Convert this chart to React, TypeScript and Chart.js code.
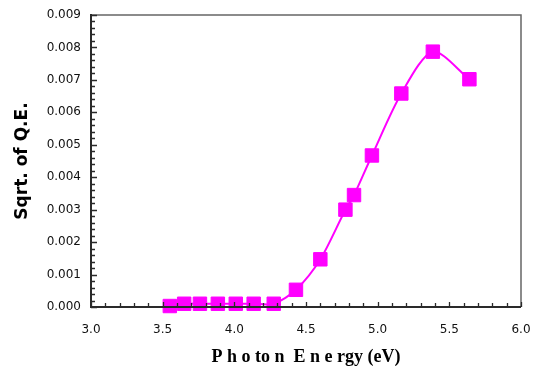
import React, { useEffect, useRef } from "react";
import { Chart, registerables } from "chart.js";

Chart.register(...registerables);

const photonEnergy = [3.55, 3.65, 3.76, 3.885, 4.01, 4.135, 4.275, 4.43, 4.6, 4.775, 4.835, 4.96, 5.165, 5.385, 5.64];
const sqrtQE = [0.00003, 0.0001, 0.0001, 0.0001, 0.0001, 0.0001, 0.0001, 0.00053, 0.00147, 0.003, 0.00345, 0.00467, 0.00658, 0.00787, 0.00702];
const xTicks = [3.0, 3.5, 4.0, 4.5, 5.0, 5.5, 6.0];
const yTicks = [0, 0.001, 0.002, 0.003, 0.004, 0.005, 0.006, 0.007, 0.008, 0.009];

const W = 539;
const H = 368;
const LEFT = 91;
const RIGHT = 521;
const TOP = 15;
const BOTTOM = 307;

const framePlugin = {
  id: "frame",
  afterDraw(chart: any) {
    const ctx = chart.ctx;
    const xs = chart.scales.x;
    const ys = chart.scales.y;
    const l = xs.left, r = xs.right, t = ys.top, b = ys.bottom;
    ctx.save();
    ctx.strokeStyle = "#666666";
    ctx.lineWidth = 1.5;
    ctx.beginPath();
    ctx.moveTo(l, t);
    ctx.lineTo(r, t);
    ctx.lineTo(r, b);
    ctx.stroke();
    ctx.strokeStyle = "#2a2a2a";
    ctx.lineWidth = 2;
    ctx.beginPath();
    ctx.moveTo(l, t - 1);
    ctx.lineTo(l, b);
    ctx.lineTo(r, b);
    ctx.stroke();
    ctx.lineWidth = 1.3;
    ctx.beginPath();
    for (let i = 0; i <= 45; i++) {
      const v = i * 0.0002;
      const y = Math.round(ys.getPixelForValue(v)) + 0.5;
      const len = i % 5 === 0 ? 6 : 4;
      ctx.moveTo(l, y);
      ctx.lineTo(l + len, y);
    }
    for (let i = 0; i <= 30; i++) {
      const v = 3 + i * 0.1;
      const x = Math.round(xs.getPixelForValue(v)) + 0.5;
      const len = i % 5 === 0 ? 5 : 4;
      ctx.moveTo(x, b);
      ctx.lineTo(x, b - len);
    }
    ctx.stroke();
    ctx.restore();
  },
};

export default function App() {
  const ref = useRef<HTMLCanvasElement>(null);
  useEffect(() => {
    if (!ref.current) return;
    const chart = new Chart(ref.current, {
      type: "line",
      data: {
        datasets: [
          {
            data: photonEnergy.map((x, i) => ({ x, y: sqrtQE[i] })),
            borderColor: "#FF00FF",
            backgroundColor: "#FF00FF",
            borderWidth: 2,
            tension: 0.28,
            pointStyle: "rect",
            pointRadius: 9.5,
            pointBorderWidth: 1,
            pointBorderColor: "#FF00FF",
            pointBackgroundColor: "#FF00FF",
            clip: false as any,
          },
        ],
      },
      options: {
        animation: false,
        responsive: false,
        maintainAspectRatio: false,
        layout: { padding: { left: 0, right: W - RIGHT, top: TOP, bottom: 0 } },
        plugins: { legend: { display: false }, tooltip: { enabled: false } },
        scales: {
          x: {
            type: "linear",
            min: 3,
            max: 6,
            afterBuildTicks: (s: any) => {
              s.ticks = xTicks.map((v) => ({ value: v }));
            },
            afterFit: (s: any) => {
              s.height = H - BOTTOM;
              s.paddingLeft = 0;
              s.paddingRight = 0;
            },
            grid: { display: false, drawTicks: false },
            border: { display: false },
            ticks: {
              color: "#111",
              font: { family: "DejaVu Sans", size: 12 },
              padding: 16,
              callback: (v: any) => Number(v).toFixed(1),
              maxRotation: 0,
              autoSkip: false,
            },
            title: {
              display: true,
              text: "P h o to n  E n e rgy (eV)",
              color: "#000",
              font: { family: "Liberation Serif", size: 18, weight: "bold" },
              padding: { top: 5, bottom: 0 },
            },
          },
          y: {
            type: "linear",
            min: 0,
            max: 0.009,
            afterBuildTicks: (s: any) => {
              s.ticks = yTicks.map((v) => ({ value: v }));
            },
            afterFit: (s: any) => {
              s.width = LEFT;
              s.paddingTop = 0;
              s.paddingBottom = 0;
            },
            grid: { display: false, drawTicks: false },
            border: { display: false },
            ticks: {
              color: "#111",
              font: { family: "DejaVu Sans", size: 12 },
              padding: 10,
              callback: (v: any) => Number(v).toFixed(3),
              autoSkip: false,
            },
            title: {
              display: true,
              text: "Sqrt. of Q.E.",
              color: "#000",
              font: { family: "DejaVu Sans", size: 17, weight: "bold" },
              padding: { top: 12, bottom: 2 },
            },
          },
        },
      },
      plugins: [framePlugin],
    });
    return () => chart.destroy();
  }, []);
  return (
    <div style={{ position: "fixed", left: 0, top: 0, width: W, height: H, background: "#fff" }}>
      <canvas ref={ref} width={W} height={H} style={{ width: W, height: H, display: "block" }} />
    </div>
  );
}
